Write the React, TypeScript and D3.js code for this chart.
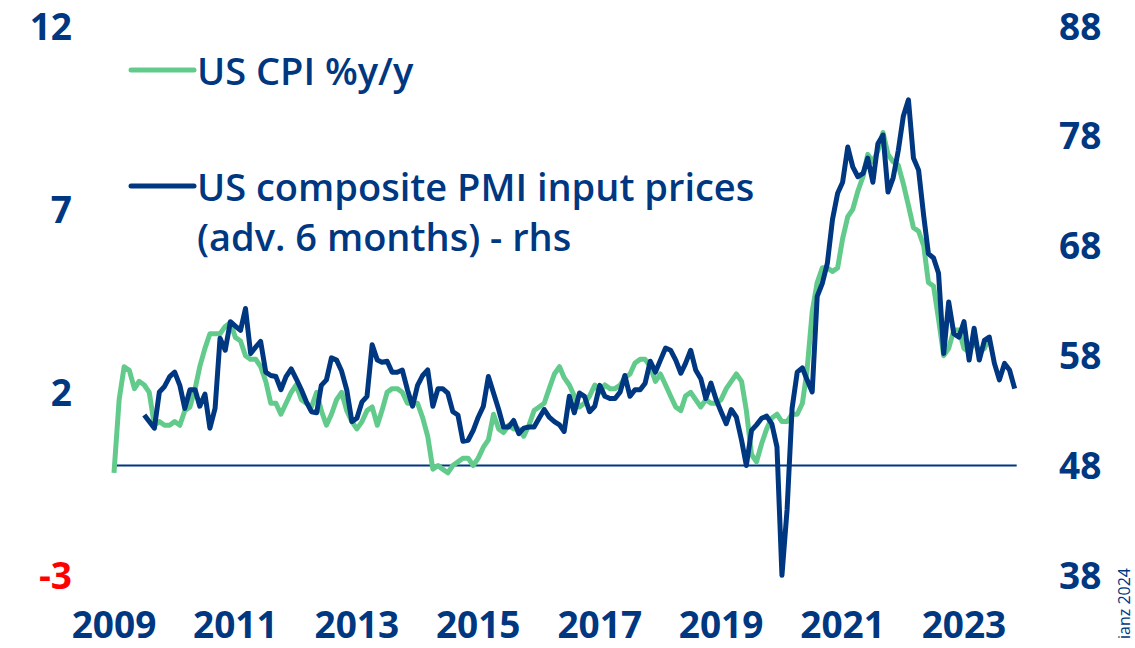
import React from 'react';
import * as d3 from 'd3';

// US CPI %y/y, monthly from Oct 2009
const cpiStart = new Date(2009, 9, 1);
const cpi = [
  -0.2, 1.8, 2.7,
  2.6, 2.1, 2.3, 2.2, 2.0, 1.1, 1.2, 1.1, 1.1, 1.2, 1.1, 1.5,
  1.6, 2.1, 2.7, 3.2, 3.6, 3.6, 3.6, 3.8, 3.9, 3.5, 3.4, 3.0,
  2.9, 2.9, 2.7, 2.3, 1.7, 1.7, 1.4, 1.7, 2.0, 2.2, 1.8, 1.7,
  1.6, 2.0, 1.5, 1.1, 1.4, 1.8, 2.0, 1.5, 1.2, 1.0, 1.2, 1.5,
  1.6, 1.1, 1.5, 2.0, 2.1, 2.1, 2.0, 1.7, 1.7, 1.7, 1.3, 0.8,
  -0.1, 0.0, -0.1, -0.2, 0.0, 0.1, 0.2, 0.2, 0.0, 0.2, 0.5, 0.7,
  1.4, 1.0, 0.9, 1.1, 1.0, 1.0, 0.8, 1.1, 1.5, 1.6, 1.7, 2.1,
  2.5, 2.7, 2.4, 2.2, 1.9, 1.6, 1.7, 1.9, 2.2, 2.0, 2.2, 2.1,
  2.1, 2.2, 2.4, 2.5, 2.8, 2.9, 2.9, 2.7, 2.3, 2.5, 2.2, 1.9,
  1.6, 1.5, 1.9, 2.0, 1.8, 1.6, 1.8, 1.7, 1.7, 1.8, 2.1, 2.3,
  2.5, 2.3, 1.5, 0.3, 0.1, 0.6, 1.0, 1.3, 1.4, 1.2, 1.2, 1.4,
  1.4, 1.7, 2.6, 4.2, 5.0, 5.4, 5.4, 5.3, 5.4, 6.2, 6.8, 7.0,
  7.5, 7.9, 8.5, 8.3, 8.6, 9.1, 8.5, 8.3, 8.2, 7.7, 7.1, 6.5,
  6.4, 6.0, 5.0, 4.9, 4.0, 3.0, 3.2, 3.7, 3.7, 3.2, 3.1, 3.4,
  3.1, 3.2, 3.5,
];

// US composite PMI input prices, advanced 6 months (chart time from Apr 2010)
const pmiStart = new Date(2010, 3, 1);
const pmi = [
  52.6, 52.0, 51.4, 54.7, 55.2, 56.1, 56.5, 55.3, 53.2, 54.9, 54.9, 53.4,
  54.5, 51.4, 53.2, 59.6, 58.5, 61.1, 60.7, 60.3, 62.3, 58.2, 58.8, 59.3,
  56.5, 56.2, 56.1, 54.9, 56.1, 56.8, 55.9, 54.9, 53.8, 52.9, 52.8, 55.3,
  55.8, 57.8, 57.6, 56.6, 54.9, 52.0, 52.3, 53.8, 54.3, 59.0, 57.6, 57.4,
  57.5, 56.5, 56.5, 56.7, 54.9, 53.4, 55.3, 56.2, 56.7, 53.4, 55.0, 55.0,
  54.6, 52.9, 52.6, 50.2, 50.3, 51.2, 52.4, 53.4, 56.1, 54.6, 53.1, 51.5,
  51.5, 52.1, 50.9, 51.4, 51.5, 51.5, 52.3, 53.1, 52.4, 52.0, 51.7, 51.1,
  54.3, 52.8, 54.6, 54.3, 52.9, 53.4, 55.3, 54.3, 54.1, 54.1, 54.7, 56.2,
  54.3, 54.9, 54.9, 55.5, 57.5, 56.5, 57.6, 58.7, 58.5, 57.6, 56.4, 57.3,
  58.5, 56.7, 55.9, 54.1, 55.5, 54.0, 52.9, 51.8, 53.1, 52.4, 50.3, 48.0,
  51.2, 51.7, 52.3, 52.5, 51.8, 49.7, 38.0, 44.0, 53.2, 56.5, 56.9, 55.8,
  54.7, 63.4, 64.6, 66.4, 70.4, 72.8, 73.8, 77.0, 75.2, 74.3, 74.6, 76.0,
  73.8, 77.3, 78.1, 72.9, 74.2, 76.7, 79.8, 81.3, 76.0, 74.9, 70.7, 67.3,
  66.9, 65.5, 58.2, 62.9, 60.0, 59.7, 61.1, 57.6, 60.5, 57.6, 59.4, 59.7,
  57.3, 55.8, 57.3, 56.7, 55.0,
];

const leftTicks = [-3, 2, 7, 12];
const rightTicks = [38, 48, 58, 68, 78, 88];
const yearLabels = [2009, 2011, 2013, 2015, 2017, 2019, 2021, 2023];

const NAVY = '#003781';
const GREEN = '#62CB8C';
const FONT = '"Open Sans", "Liberation Sans", sans-serif';

const App = () => {
  const width = 1135;
  const height = 648;

  const endDate = d3.timeMonth.offset(pmiStart, pmi.length - 1);
  const x = d3.scaleTime()
    .domain([cpiStart, endDate])
    .range([114, 114 + 178 * 5.06]);

  const yL = d3.scaleLinear().domain([-3, 12]).range([575.3, 26.3]);
  const yR = d3.scaleLinear().domain([38, 88]).range([575.3, 26.3]);

  const cpiLine = d3.line<number>()
    .x((_, i) => x(d3.timeMonth.offset(cpiStart, i)))
    .y(d => yL(d));

  const pmiLine = d3.line<number>()
    .x((_, i) => x(d3.timeMonth.offset(pmiStart, i)))
    .y(d => yR(d));

  return (
    <svg
      width={width}
      height={height}
      style={{ position: 'absolute', left: 0, top: 0, background: '#fff' }}
      fontFamily={FONT}
    >
      {/* zero line */}
      <line x1={x(cpiStart)} x2={x(endDate) + 2} y1={yL(0)} y2={yL(0)} stroke={NAVY} strokeWidth={2} />

      <path d={cpiLine(cpi) || ''} fill="none" stroke={GREEN} strokeWidth={5} strokeLinejoin="round" />
      <path d={pmiLine(pmi) || ''} fill="none" stroke={NAVY} strokeWidth={5} strokeLinejoin="round" />

      {/* left axis */}
      {leftTicks.map(t => (
        <text key={t} x={72} y={yL(t)} dy="0.36em" textAnchor="end" fontSize={37} fontWeight={700}
          fill={t < 0 ? '#FF0000' : NAVY}>{t}</text>
      ))}

      {/* right axis */}
      {rightTicks.map(t => (
        <text key={t} x={1059} y={yR(t)} dy="0.36em" textAnchor="start" fontSize={37} fontWeight={700}
          fill={NAVY}>{t}</text>
      ))}

      {/* x labels */}
      {yearLabels.map(yr => (
        <text key={yr} x={x(new Date(yr, 9, 1))} y={638} textAnchor="middle" fontSize={37} fontWeight={700}
          fill={NAVY}>{yr}</text>
      ))}

      {/* legend */}
      <line x1={131} x2={194} y1={70} y2={70} stroke={GREEN} strokeWidth={5} strokeLinecap="round" />
      <text x={197} y={85} fontSize={38} fontWeight={600} fill={NAVY}>US CPI %y/y</text>
      <line x1={131} x2={194} y1={186} y2={186} stroke={NAVY} strokeWidth={5} strokeLinecap="round" />
      <text x={197} y={201} fontSize={38} fontWeight={600} fill={NAVY}>US composite PMI input prices</text>
      <text x={197} y={251} fontSize={38} fontWeight={600} fill={NAVY}>(adv. 6 months) - rhs</text>

      {/* source, the start of it runs past the bottom edge */}
      <text transform="translate(1130,568) rotate(-90)" textAnchor="end" fontSize={16} fill={NAVY}>ianz 2024</text>
    </svg>
  );
};

export default App;
